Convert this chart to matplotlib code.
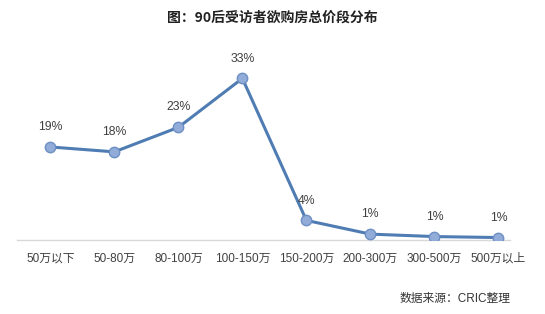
import matplotlib.pyplot as plt

# latin digits in an Arial-like face, CJK falls through to Noto
plt.rcParams['font.family'] = ['Liberation Sans', 'Noto Sans CJK SC', 'DejaVu Sans']

# data
categories = ['50万以下', '50-80万', '80-100万', '100-150万', '150-200万',
              '200-300万', '300-500万', '500万以上']
shares = [19, 18, 23, 33, 4, 1.2, 0.7, 0.5]
share_labels = ['19%', '18%', '23%', '33%', '4%', '1%', '1%', '1%']

fig = plt.figure(figsize=(5.45, 3.14), dpi=100)
ax = fig.add_axes([17/545, 1 - 240/314, (510 - 17)/545, (240 - 50)/314])

x = list(range(len(categories)))
ax.plot(x, shares, color='#4f7cb3', lw=2.2, marker='o', ms=7.5,
        mfc='#91acd8', mec='#6d8fc4', mew=1, zorder=3)

for xi, v, lab in zip(x, shares, share_labels):
    ax.annotate(lab, (xi, v), xytext=(0, 10), textcoords='offset points',
                ha='center', va='bottom', fontsize=8.8, color='#404040')

ax.set_xlim(-0.52, 7.18)
ax.set_ylim(0, 38.8)
ax.set_xticks(x)
ax.set_xticklabels(categories, fontsize=8.5, color='#404040')
ax.tick_params(axis='x', length=0, pad=9)
ax.set_yticks([])
for s in ['top', 'right', 'left']:
    ax.spines[s].set_visible(False)
ax.spines['bottom'].set_color('#d9d9d9')
ax.spines['bottom'].set_linewidth(1)

fig.text(272/545, 1 - 18/314, '图：90后受访者欲购房总价段分布', ha='center', va='center',
         fontsize=10, fontweight='bold', color='#222222',
         family=['Noto Sans CJK SC', 'DejaVu Sans'])
fig.text(511/545, 1 - 299/314, '数据来源：CRIC整理', ha='right', va='center',
         fontsize=8.5, color='#333333')

fig.savefig('out.png', dpi=100)
